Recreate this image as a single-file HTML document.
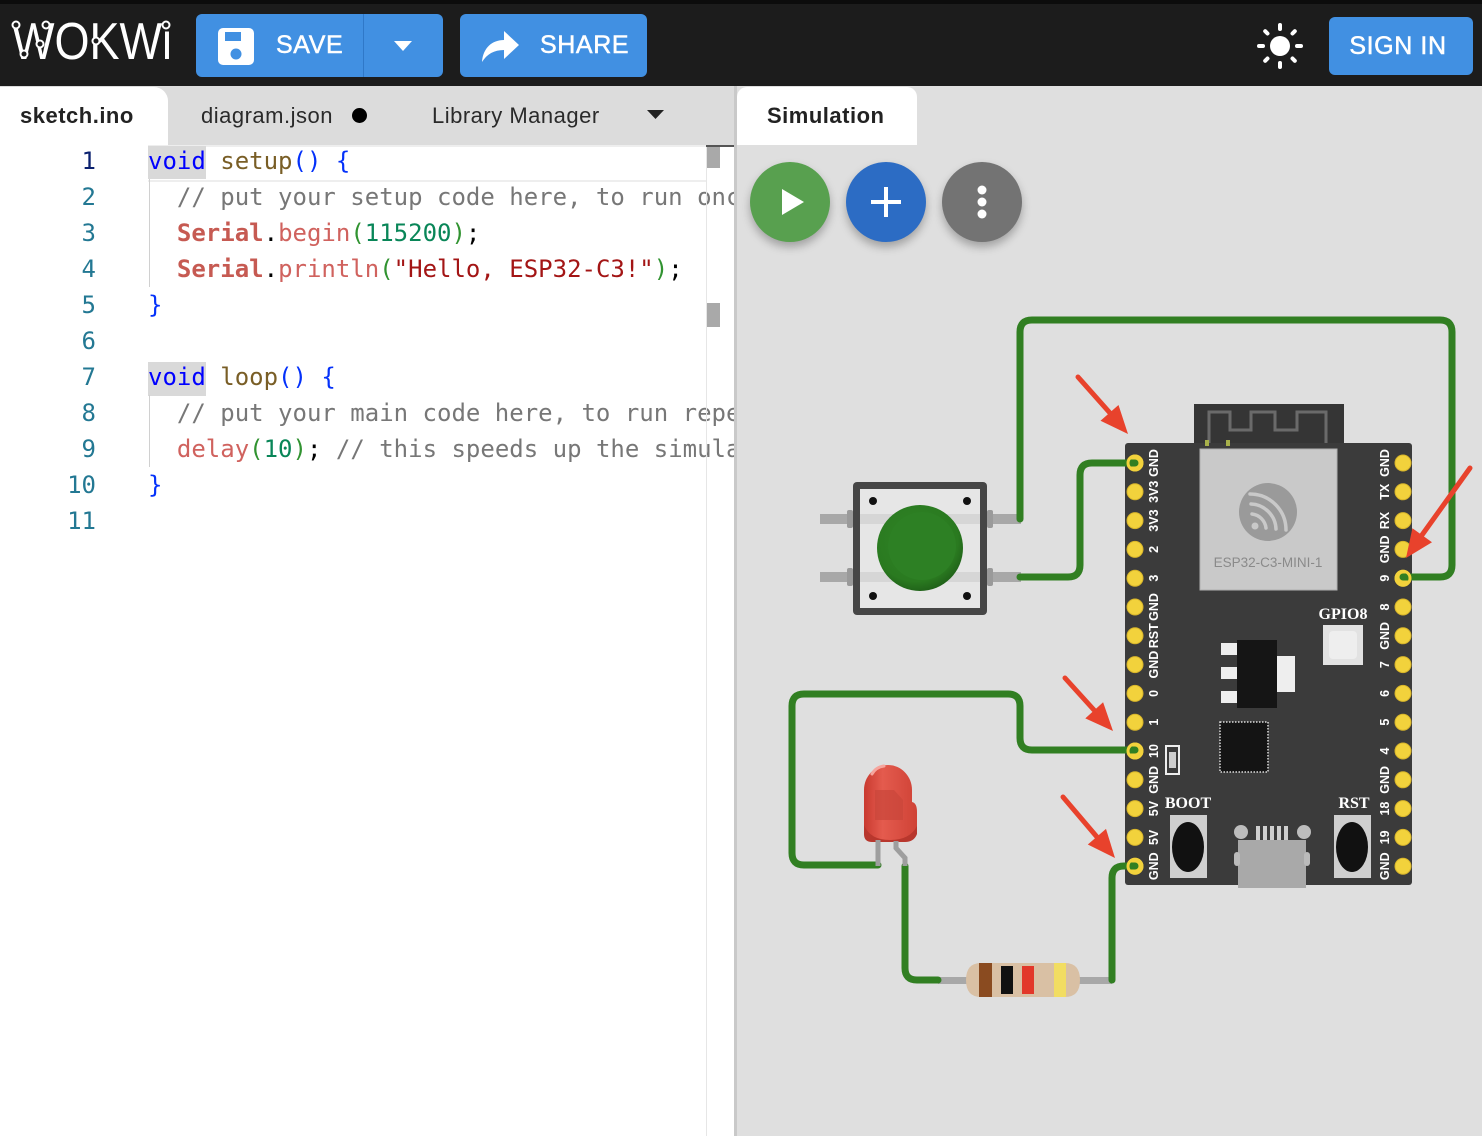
<!DOCTYPE html>
<html>
<head>
<meta charset="utf-8">
<style>
  html,body{margin:0;padding:0;}
  body{width:1482px;height:1136px;position:relative;overflow:hidden;background:#dedede;font-family:"Liberation Sans",sans-serif;}
  .abs{position:absolute;}
  #header{left:0;top:0;width:1482px;height:86px;background:#1c1c1c;}
  #header .topband{position:absolute;left:0;top:0;width:1482px;height:4px;background:#0c0c0c;}
  .btn{position:absolute;background:#4190e2;border-radius:6px;color:#fff;font-size:25px;letter-spacing:0.6px;-webkit-text-stroke:0.5px #fff;}
  #tabbar{left:0;top:86px;width:735px;height:59px;background:#dcdcdc;}
  .tab{position:absolute;font-size:22px;color:#2a2a2a;letter-spacing:0.5px;}
  #editor{left:0;top:145px;width:734px;height:991px;background:#fff;}
  .code{position:absolute;left:148px;font-family:"DejaVu Sans Mono","Liberation Mono",monospace;font-size:24px;white-space:pre;line-height:36px;height:36px;}
  .num{position:absolute;left:40px;width:56px;text-align:right;font-family:"DejaVu Sans Mono","Liberation Mono",monospace;font-size:24px;line-height:36px;height:36px;color:#237893;}
  .kw{color:#0000ff;}
  .fn{color:#795e26;}
  .p{color:#0431fa;}
  .p2{color:#319331;}
  .cm{color:#777;}
  .ser{color:#c65a52;font-weight:bold;}
  .mt{color:#d0625e;}
  .nm{color:#098658;}
  .st{color:#a31515;}
  .bk{color:#000;}
  .circ{position:absolute;width:80px;height:80px;border-radius:50%;box-shadow:0 5px 9px rgba(0,0,0,0.28);}
</style>
</head>
<body>

<!-- HEADER -->
<div id="header" class="abs">
  <div class="topband"></div>
  <svg class="abs" style="left:0;top:0" width="190" height="86">
    <text x="12" y="59" font-family="Liberation Sans, sans-serif" font-size="52" fill="#fff" textLength="160" lengthAdjust="spacingAndGlyphs">WOKWi</text>
    <g fill="#1c1c1c" stroke="#fff" stroke-width="2">
      <circle cx="16" cy="25" r="3.5"/><circle cx="46" cy="25" r="3.5"/>
      <circle cx="24" cy="54" r="3.5"/><circle cx="40" cy="44" r="3.5"/>
      <circle cx="96" cy="41" r="3.5"/><circle cx="166" cy="25" r="3.5"/>
    </g>
  </svg>

  <div class="btn" style="left:196px;top:14px;width:247px;height:63px;">
    <div class="abs" style="left:167px;top:0;width:1px;height:63px;background:#2f78c8;"></div>
    <svg class="abs" style="left:20px;top:13px" width="40" height="40">
      <rect x="2" y="1" width="36" height="37" rx="5" fill="#fff"/>
      <rect x="9" y="5" width="16" height="9" fill="#4190e2"/>
      <circle cx="20" cy="27" r="5.5" fill="#4190e2"/>
    </svg>
    <div class="abs" style="left:80px;top:16px;line-height:30px;">SAVE</div>
    <svg class="abs" style="left:198px;top:27px" width="20" height="12">
      <polygon points="0,0 18,0 9,10" fill="#fff"/>
    </svg>
  </div>

  <div class="btn" style="left:460px;top:14px;width:187px;height:63px;">
    <svg class="abs" style="left:20px;top:14px" width="42" height="36">
      <path d="M2,34 C3,20 12,12 24,12 L24,3 L39,17 L24,31 L24,22 C14,22 7,26 2,34 Z" fill="#fff"/>
    </svg>
    <div class="abs" style="left:80px;top:16px;line-height:30px;">SHARE</div>
  </div>

  <svg class="abs" style="left:1256px;top:22px" width="48" height="48">
    <circle cx="24" cy="24" r="10" fill="#fff"/>
    <g stroke="#fff" stroke-width="4" stroke-linecap="round">
      <line x1="24" y1="3" x2="24" y2="7"/>
      <line x1="24" y1="41" x2="24" y2="45"/>
      <line x1="3" y1="24" x2="7" y2="24"/>
      <line x1="41" y1="24" x2="45" y2="24"/>
      <line x1="9.2" y1="9.2" x2="11.5" y2="11.5"/>
      <line x1="36.5" y1="36.5" x2="38.8" y2="38.8"/>
      <line x1="38.8" y1="9.2" x2="36.5" y2="11.5"/>
      <line x1="9.2" y1="38.8" x2="11.5" y2="36.5"/>
    </g>
  </svg>

  <div class="btn" style="left:1329px;top:17px;width:144px;height:58px;">
    <div class="abs" style="left:-3px;top:14px;width:144px;text-align:center;line-height:30px;">SIGN IN</div>
  </div>
</div>

<!-- TAB BAR LEFT -->
<div id="tabbar" class="abs">
  <div class="abs" style="left:0;top:1px;width:168px;height:59px;background:#fff;border-top-right-radius:14px;"></div>
  <div class="tab" style="left:20px;top:17px;font-weight:bold;color:#222;">sketch.ino</div>
  <div class="tab" style="left:201px;top:17px;">diagram.json</div>
  <div class="abs" style="left:352px;top:22px;width:15px;height:15px;border-radius:50%;background:#000;"></div>
  <div class="tab" style="left:432px;top:17px;">Library Manager</div>
  <svg class="abs" style="left:647px;top:24px" width="18" height="12"><polygon points="0,0 17,0 8.5,9" fill="#222"/></svg>
</div>

<!-- EDITOR -->
<div id="editor" class="abs">
  <div class="abs" style="left:148px;top:0px;width:558px;height:33px;border-top:2px solid #eeeeee;border-bottom:2px solid #eeeeee;"></div>
  <div class="abs" style="left:148px;top:1px;width:58px;height:33px;background:#d9d9d9;"></div>
  <div class="abs" style="left:148px;top:217px;width:58px;height:34px;background:#d9d9d9;"></div>
  <div class="abs" style="left:149px;top:34px;width:1px;height:108px;background:#d0d0d0;"></div>
  <div class="abs" style="left:149px;top:250px;width:1px;height:72px;background:#d0d0d0;"></div>
</div>

<div class="num" style="top:143px;color:#0b216f;">1</div>
<div class="num" style="top:179px;">2</div>
<div class="num" style="top:215px;">3</div>
<div class="num" style="top:251px;">4</div>
<div class="num" style="top:287px;">5</div>
<div class="num" style="top:323px;">6</div>
<div class="num" style="top:359px;">7</div>
<div class="num" style="top:395px;">8</div>
<div class="num" style="top:431px;">9</div>
<div class="num" style="top:467px;">10</div>
<div class="num" style="top:503px;">11</div>

<div style="position:absolute;left:0;top:0;width:735px;height:1136px;overflow:hidden;">
<div class="code" style="top:143px;"><span class="kw">void</span> <span class="fn">setup</span><span class="p">()</span> <span class="p">{</span></div>
<div class="code" style="top:179px;">  <span class="cm">// put your setup code here, to run once:</span></div>
<div class="code" style="top:215px;">  <span class="ser">Serial</span><span class="bk">.</span><span class="mt">begin</span><span class="p2">(</span><span class="nm">115200</span><span class="p2">)</span><span class="bk">;</span></div>
<div class="code" style="top:251px;">  <span class="ser">Serial</span><span class="bk">.</span><span class="mt">println</span><span class="p2">(</span><span class="st">"Hello, ESP32-C3!"</span><span class="p2">)</span><span class="bk">;</span></div>
<div class="code" style="top:287px;"><span class="p">}</span></div>
<div class="code" style="top:359px;"><span class="kw">void</span> <span class="fn">loop</span><span class="p">()</span> <span class="p">{</span></div>
<div class="code" style="top:395px;">  <span class="cm">// put your main code here, to run repeatedly:</span></div>
<div class="code" style="top:431px;">  <span class="mt">delay</span><span class="p2">(</span><span class="nm">10</span><span class="p2">)</span><span class="bk">;</span> <span class="cm">// this speeds up the simulation</span></div>
<div class="code" style="top:467px;"><span class="p">}</span></div>
</div>

<!-- scrollbar column on top -->
<div class="abs" style="left:706px;top:145px;width:1px;height:991px;background:#e6e6e6;"></div>
<div class="abs" style="left:707px;top:147px;width:13px;height:21px;background:#a9a9a9;"></div>
<div class="abs" style="left:707px;top:303px;width:13px;height:24px;background:#a9a9a9;"></div>
<div class="abs" style="left:706px;top:145px;width:28px;height:2px;background:#555;"></div>

<!-- Divider -->
<div class="abs" style="left:734px;top:86px;width:3px;height:1050px;background:#c9c9c9;"></div>

<!-- RIGHT PANE -->
<div class="abs" style="left:737px;top:86px;width:745px;height:1050px;background:#dfdfdf;"></div>
<div class="abs" style="left:737px;top:87px;width:180px;height:58px;background:#fff;border-top-left-radius:10px;border-top-right-radius:10px;"></div>
<div class="tab" style="left:767px;top:103px;font-weight:bold;color:#222;">Simulation</div>

<div class="circ" style="left:750px;top:162px;background:#58a04f;"></div>
<div class="circ" style="left:846px;top:162px;background:#2c6cc4;"></div>
<div class="circ" style="left:942px;top:162px;background:#737373;"></div>
<svg class="abs" style="left:0;top:0" width="1482" height="1136">
  <polygon points="782,189 782,215 804,202" fill="#fff"/>
  <rect x="871" y="200" width="30" height="4" fill="#fff"/>
  <rect x="884" y="187" width="4" height="30" fill="#fff"/>
  <circle cx="982" cy="190" r="4.5" fill="#fff"/>
  <circle cx="982" cy="202" r="4.5" fill="#fff"/>
  <circle cx="982" cy="214" r="4.5" fill="#fff"/>
</svg>

<!-- CIRCUIT -->
<svg class="abs" style="left:0;top:0" width="1482" height="1136" font-family="Liberation Sans, sans-serif">
  <defs>
    <radialGradient id="btng" cx="0.45" cy="0.4" r="0.65">
      <stop offset="0" stop-color="#2f8426"/>
      <stop offset="0.75" stop-color="#2a7a20"/>
      <stop offset="1" stop-color="#1d5a17"/>
    </radialGradient>
    <linearGradient id="ledg" x1="0" x2="1" y1="0" y2="0">
      <stop offset="0" stop-color="#c93a30"/>
      <stop offset="0.35" stop-color="#e45b4e"/>
      <stop offset="1" stop-color="#cf4236"/>
    </linearGradient>
  </defs>

  <rect x="1194" y="404" width="150" height="48" fill="#353535"/>
  <path d="M1209,446 V412 H1230 V430 H1251 V412 H1275 V430 H1297 V412 H1326 V446" fill="none" stroke="#6a6a6a" stroke-width="3"/>
  <rect x="1125" y="443" width="287" height="442" rx="3" fill="#3b3b3b"/>
  <rect x="1205" y="440" width="4" height="6" fill="#a7b04a"/>
  <rect x="1226" y="440" width="4" height="6" fill="#a7b04a"/>
  <rect x="1200" y="449" width="137" height="141" fill="#c9c9c9" stroke="#b0b0b0" stroke-width="1"/>
  <circle cx="1268" cy="512" r="29" fill="#9a9a9a"/>
  <g fill="none" stroke="#c9c9c9" stroke-width="3.5" stroke-linecap="round">
    <path d="M1250,494 A36,36 0 0 1 1286,530"/>
    <path d="M1251,504 A26,26 0 0 1 1276,529"/>
    <path d="M1252,514 A16,16 0 0 1 1266,528"/>
  </g>
  <circle cx="1255" cy="526" r="3.5" fill="#c9c9c9"/>
  <text x="1268" y="567" font-size="13.5" fill="#8a8a8a" text-anchor="middle">ESP32-C3-MINI-1</text>

  <text x="1343" y="619" font-family="Liberation Serif, serif" font-weight="bold" font-size="16" fill="#fff" text-anchor="middle">GPIO8</text>
  <rect x="1323" y="625" width="40" height="40" fill="#e2e2e2"/>
  <rect x="1329" y="631" width="28" height="28" rx="4" fill="#eeeeee"/>

  <rect x="1221" y="643" width="18" height="12" fill="#eeeeee"/>
  <rect x="1221" y="667" width="18" height="12" fill="#eeeeee"/>
  <rect x="1221" y="691" width="18" height="12" fill="#eeeeee"/>
  <rect x="1237" y="640" width="40" height="68" fill="#151515"/>
  <rect x="1277" y="656" width="18" height="36" fill="#eeeeee"/>

  <rect x="1220" y="722" width="48" height="50" fill="#141414" stroke="#ddd" stroke-width="1.5" stroke-dasharray="1.5,1.5"/>

  <rect x="1166" y="746" width="13" height="28" fill="none" stroke="#eee" stroke-width="2"/>
  <rect x="1169" y="752" width="7" height="16" fill="#cfcfcf"/>

  <text x="1188" y="808" font-family="Liberation Serif, serif" font-weight="bold" font-size="16" fill="#fff" text-anchor="middle">BOOT</text>
  <text x="1354" y="808" font-family="Liberation Serif, serif" font-weight="bold" font-size="16" fill="#fff" text-anchor="middle">RST</text>
  <rect x="1170" y="815" width="37" height="63" fill="#cfcfcf"/>
  <ellipse cx="1188" cy="847" rx="16" ry="25" fill="#111"/>
  <rect x="1334" y="815" width="37" height="63" fill="#cfcfcf"/>
  <ellipse cx="1352" cy="847" rx="16" ry="25" fill="#111"/>

  <circle cx="1241" cy="832" r="7" fill="#bdbdbd"/>
  <circle cx="1304" cy="832" r="7" fill="#bdbdbd"/>
  <g fill="#cfcfcf">
    <rect x="1256" y="826" width="4" height="14"/><rect x="1263" y="826" width="4" height="14"/>
    <rect x="1270" y="826" width="4" height="14"/><rect x="1277" y="826" width="4" height="14"/>
    <rect x="1284" y="826" width="4" height="14"/>
  </g>
  <rect x="1238" y="840" width="68" height="48" fill="#a9a9a9"/>
  <rect x="1234" y="852" width="6" height="14" rx="3" fill="#bbb"/>
  <rect x="1304" y="852" width="6" height="14" rx="3" fill="#bbb"/>

  <g fill="#f2d23c" stroke="#d8b52a" stroke-width="1">
    <circle cx="1135" cy="463" r="8"/><circle cx="1135" cy="491.8" r="8"/><circle cx="1135" cy="520.6" r="8"/>
    <circle cx="1135" cy="549.4" r="8"/><circle cx="1135" cy="578.2" r="8"/><circle cx="1135" cy="607" r="8"/>
    <circle cx="1135" cy="635.8" r="8"/><circle cx="1135" cy="664.6" r="8"/><circle cx="1135" cy="693.4" r="8"/>
    <circle cx="1135" cy="722.2" r="8"/><circle cx="1135" cy="751" r="8"/><circle cx="1135" cy="779.8" r="8"/>
    <circle cx="1135" cy="808.6" r="8"/><circle cx="1135" cy="837.4" r="8"/><circle cx="1135" cy="866.2" r="8"/>
    <circle cx="1403" cy="463" r="8"/><circle cx="1403" cy="491.8" r="8"/><circle cx="1403" cy="520.6" r="8"/>
    <circle cx="1403" cy="549.4" r="8"/><circle cx="1403" cy="578.2" r="8"/><circle cx="1403" cy="607" r="8"/>
    <circle cx="1403" cy="635.8" r="8"/><circle cx="1403" cy="664.6" r="8"/><circle cx="1403" cy="693.4" r="8"/>
    <circle cx="1403" cy="722.2" r="8"/><circle cx="1403" cy="751" r="8"/><circle cx="1403" cy="779.8" r="8"/>
    <circle cx="1403" cy="808.6" r="8"/><circle cx="1403" cy="837.4" r="8"/><circle cx="1403" cy="866.2" r="8"/>
  </g>

  <g font-size="12.5" font-weight="bold" fill="#fff" text-anchor="middle" dominant-baseline="central">
    <text transform="translate(1154,463) rotate(-90)">GND</text>
    <text transform="translate(1154,491.8) rotate(-90)">3V3</text>
    <text transform="translate(1154,520.6) rotate(-90)">3V3</text>
    <text transform="translate(1154,549.4) rotate(-90)">2</text>
    <text transform="translate(1154,578.2) rotate(-90)">3</text>
    <text transform="translate(1154,607) rotate(-90)">GND</text>
    <text transform="translate(1154,635.8) rotate(-90)">RST</text>
    <text transform="translate(1154,664.6) rotate(-90)">GND</text>
    <text transform="translate(1154,693.4) rotate(-90)">0</text>
    <text transform="translate(1154,722.2) rotate(-90)">1</text>
    <text transform="translate(1154,751) rotate(-90)">10</text>
    <text transform="translate(1154,779.8) rotate(-90)">GND</text>
    <text transform="translate(1154,808.6) rotate(-90)">5V</text>
    <text transform="translate(1154,837.4) rotate(-90)">5V</text>
    <text transform="translate(1154,866.2) rotate(-90)">GND</text>

    <text transform="translate(1385,463) rotate(-90)">GND</text>
    <text transform="translate(1385,491.8) rotate(-90)">TX</text>
    <text transform="translate(1385,520.6) rotate(-90)">RX</text>
    <text transform="translate(1385,549.4) rotate(-90)">GND</text>
    <text transform="translate(1385,578.2) rotate(-90)">9</text>
    <text transform="translate(1385,607) rotate(-90)">8</text>
    <text transform="translate(1385,635.8) rotate(-90)">GND</text>
    <text transform="translate(1385,664.6) rotate(-90)">7</text>
    <text transform="translate(1385,693.4) rotate(-90)">6</text>
    <text transform="translate(1385,722.2) rotate(-90)">5</text>
    <text transform="translate(1385,751) rotate(-90)">4</text>
    <text transform="translate(1385,779.8) rotate(-90)">GND</text>
    <text transform="translate(1385,808.6) rotate(-90)">18</text>
    <text transform="translate(1385,837.4) rotate(-90)">19</text>
    <text transform="translate(1385,866.2) rotate(-90)">GND</text>
  </g>

  <!-- PUSHBUTTON -->
  <rect x="820" y="514" width="36" height="10" fill="#a8a8a8"/>
  <rect x="820" y="572" width="36" height="10" fill="#a8a8a8"/>
  <rect x="985" y="514" width="36" height="10" fill="#a8a8a8"/>
  <rect x="985" y="572" width="36" height="10" fill="#a8a8a8"/>
  <rect x="847" y="510" width="6" height="18" rx="2" fill="#9a9a9a"/>
  <rect x="847" y="568" width="6" height="18" rx="2" fill="#9a9a9a"/>
  <rect x="987" y="510" width="6" height="18" rx="2" fill="#9a9a9a"/>
  <rect x="987" y="568" width="6" height="18" rx="2" fill="#9a9a9a"/>
  <rect x="853" y="482" width="134" height="133" rx="4" fill="#464646"/>
  <rect x="860" y="489" width="120" height="119" fill="#e6e6e6"/>
  <rect x="860" y="514" width="120" height="10" fill="#d6d6d6"/>
  <rect x="860" y="572" width="120" height="10" fill="#d6d6d6"/>
  <circle cx="873" cy="501" r="4" fill="#111"/>
  <circle cx="967" cy="501" r="4" fill="#111"/>
  <circle cx="873" cy="596" r="4" fill="#111"/>
  <circle cx="967" cy="596" r="4" fill="#111"/>
  <circle cx="920" cy="548" r="43" fill="url(#btng)"/>
  <circle cx="922" cy="546" r="34" fill="#2d8024"/>

  <!-- LED -->
  <path d="M864,832 V790 A24,25 0 0 1 912,790 V802 Q917,803 917,812 V828 Q917,840 905,840 H872 Q864,840 864,832 Z" fill="url(#ledg)"/>
  <path d="M864,825 Q870,840 890,840 Q910,840 917,826 V834 Q914,842 905,842 H872 Q864,842 864,834 Z" fill="#b8372d"/>
  <path d="M875,790 L894,790 L903,800 L903,820 L875,820 Z" fill="#c9463b" opacity="0.7"/>
  <path d="M872,774 Q876,767 884,766" stroke="#f6a59d" stroke-width="3" fill="none" stroke-linecap="round"/>

  <rect x="938" y="977" width="30" height="7" fill="#a8a8a8"/>
  <rect x="1078" y="977" width="34" height="7" fill="#a8a8a8"/>
  <path d="M981,963 H1065 Q1080,963 1080,980 Q1080,997 1065,997 H981 Q966,997 966,980 Q966,963 981,963 Z" fill="#d9c0a4"/>
  <rect x="979" y="963" width="13" height="34" fill="#8a4b20"/>
  <rect x="1001" y="966" width="12" height="28" fill="#111"/>
  <rect x="1022" y="966" width="12" height="28" fill="#e2382a"/>
  <rect x="1054" y="963" width="12" height="34" fill="#f2dd62"/>

  <!-- WIRES -->
  <g fill="none" stroke="#317f22" stroke-width="7" stroke-linecap="round" stroke-linejoin="round">
    <path d="M1020,519 V332 Q1020,320 1032,320 H1440 Q1452,320 1452,332 V565 Q1452,577 1440,577 H1403"/>
    <path d="M1020,577 H1068 Q1080,577 1080,565 V475 Q1080,463 1092,463 H1135"/>
    <path d="M878,865 H804 Q792,865 792,853 V706 Q792,694 804,694 H1008 Q1020,694 1020,706 V738 Q1020,750 1032,750 H1135"/>
    <path d="M905,866 V968 Q905,980 917,980 H938"/>
    <path d="M1112,980 V878 Q1112,866 1124,866 H1135"/>
  </g>

  <g stroke="#9e9e9e" stroke-width="5" fill="none">
    <path d="M878,840 V866"/>
    <path d="M896,841 V848 L905,858 V866"/>
  </g>

  <g fill="none" stroke="#f2d23c" stroke-width="3">
    <circle cx="1135" cy="463" r="7"/>
    <circle cx="1135" cy="751" r="7"/>
    <circle cx="1135" cy="866.2" r="7"/>
    <circle cx="1403" cy="578.2" r="7"/>
  </g>

  <!-- RED ARROWS -->
  <g stroke="#e8422c" stroke-width="5" stroke-linecap="round">
    <line x1="1078" y1="377" x2="1110" y2="413"/>
    <line x1="1470" y1="468" x2="1422" y2="535"/>
    <line x1="1065" y1="678" x2="1094" y2="710"/>
    <line x1="1063" y1="797" x2="1097" y2="837"/>
  </g>
  <g fill="#e8422c">
    <polygon points="1128,434 1100.5,420.8 1118.5,405"/>
    <polygon points="1406,558 1412.4,528.2 1432,542.2"/>
    <polygon points="1113,731 1085.3,718.4 1103.1,702.2"/>
    <polygon points="1115,858 1087.8,844.5 1106,828.9"/>
  </g>
</svg>

</body>
</html>
